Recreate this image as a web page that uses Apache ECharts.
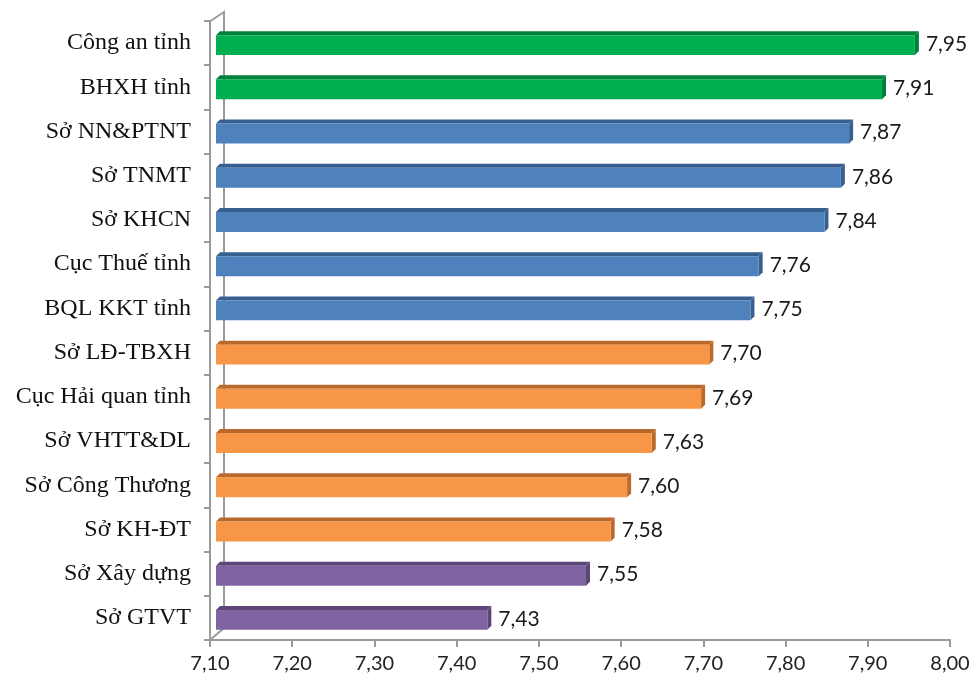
<!DOCTYPE html>
<html>
<head>
<meta charset="utf-8">
<script src="https://cdn.jsdelivr.net/npm/echarts@6/dist/echarts.min.js"></script>
<style>
  html, body { margin: 0; padding: 0; background: #fff; }
</style>
</head>
<body>
<div id="chart" style="width: 974px; height: 687px;"></div>
<script>
const categories = [
  'Công an tỉnh', 'BHXH tỉnh', 'Sở NN&PTNT', 'Sở TNMT', 'Sở KHCN',
  'Cục Thuế tỉnh', 'BQL KKT tỉnh', 'Sở LĐ-TBXH', 'Cục Hải quan tỉnh',
  'Sở VHTT&DL', 'Sở Công Thương', 'Sở KH-ĐT', 'Sở Xây dựng', 'Sở GTVT'
];
const scores = [7.95, 7.91, 7.87, 7.86, 7.84, 7.76, 7.75, 7.70, 7.69, 7.63, 7.60, 7.58, 7.55, 7.43];
const groups = [0, 0, 1, 1, 1, 1, 1, 2, 2, 2, 2, 2, 3, 3];
const axisTicks = [7.1, 7.2, 7.3, 7.4, 7.5, 7.6, 7.7, 7.8, 7.9, 8.0];

// front / top+side colours per group
const fronts = ['#00B050', '#4F81BD', '#F79646', '#8064A2'];
const shades = ['#00803A', '#375F8F', '#B9692C', '#5C4678'];

const fmt = v => v.toFixed(2).replace('.', ',');

const chart = echarts.init(document.getElementById('chart'));

function renderBar(params, api) {
  const idx = api.value(0);
  const val = api.value(1);
  const start = api.coord([axisTicks[0], idx]);
  const end = api.coord([val, idx]);
  const band = api.size([0, 1])[1];
  const h = band * 0.45;
  const dx = 6;     // shift of the bar off the front wall
  const d = 4;      // depth of the 3D faces
  const x0 = start[0] + dx;
  const x1 = end[0] + dx;
  const y0 = end[1] - h / 2 + 2;
  const g = groups[idx];
  return {
    type: 'group',
    children: [
      {
        type: 'polygon',
        shape: { points: [[x0, y0], [x0 + d, y0 - d], [x1 + d, y0 - d], [x1, y0]] },
        style: { fill: shades[g] }
      },
      {
        type: 'polygon',
        shape: { points: [[x1, y0], [x1 + d, y0 - d], [x1 + d, y0 + h - d], [x1, y0 + h]] },
        style: { fill: shades[g] }
      },
      {
        type: 'rect',
        shape: { x: x0, y: y0, width: x1 - x0, height: h },
        style: { fill: fronts[g] }
      },
      {
        type: 'text',
        x: x1 + d + 7,
        y: y0 + h / 2 - 1,
        style: {
          text: fmt(val),
          fill: '#1a1a1a',
          font: '21px Lato, "Open Sans", sans-serif',
          verticalAlign: 'middle',
          align: 'left'
        }
      }
    ]
  };
}

const option = {
  animation: false,
  grid: { left: 210, right: 24, top: 21, bottom: 47 },
  xAxis: {
    type: 'value',
    min: 7.1,
    max: 8.0,
    interval: 0.1,
    axisLine: { show: true, lineStyle: { color: '#9a9a9a', width: 2 } },
    axisTick: { show: true, length: 7, lineStyle: { color: '#9a9a9a', width: 2 } },
    splitLine: { show: false },
    axisLabel: {
      formatter: v => fmt(v),
      color: '#222',
      fontSize: 20,
      fontFamily: 'Lato, "Open Sans", sans-serif',
      margin: 14
    }
  },
  yAxis: {
    type: 'category',
    data: categories,
    inverse: true,
    axisLine: { show: true, lineStyle: { color: '#9a9a9a', width: 2 } },
    axisTick: { show: true, length: 6, lineStyle: { color: '#9a9a9a', width: 2 } },
    axisLabel: {
      color: '#111',
      fontSize: 24,
      fontFamily: '"Liberation Serif", "Times New Roman", serif',
      margin: 19
    }
  },
  graphic: [
    // back wall edge and the slanted corners of the 3D frame
    { type: 'polyline', shape: { points: [[209, 22], [224, 12], [224, 628], [210, 640]] },
      style: { stroke: '#9a9a9a', lineWidth: 2, fill: null }, z: 0 }
  ],
  series: [{
    type: 'custom',
    renderItem: renderBar,
    encode: { x: 1, y: 0 },
    data: scores.map((v, i) => [i, v]),
    z: 5
  }]
};

chart.setOption(option);
</script>
</body>
</html>
